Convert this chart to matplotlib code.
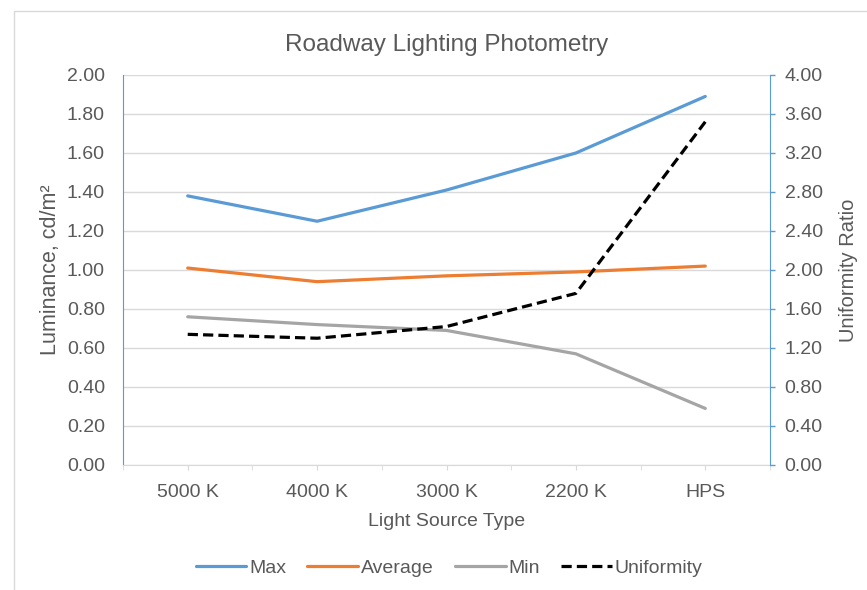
import matplotlib
matplotlib.use("Agg")
import matplotlib.pyplot as plt
from matplotlib.patches import Rectangle

sources = ["5000 K", "4000 K", "3000 K", "2200 K", "HPS"]
lum_max = [1.38, 1.25, 1.41, 1.60, 1.89]
lum_avg = [1.01, 0.94, 0.97, 0.99, 1.02]
lum_min = [0.76, 0.72, 0.69, 0.57, 0.29]
uniformity = [1.34, 1.30, 1.42, 1.76, 3.52]

TEXT = "#595959"
GRID = "#D9D9D9"
AXIS_BLUE = "#5B9BD5"

plt.rcParams["font.family"] = ["Liberation Sans", "DejaVu Sans"]

fig = plt.figure(figsize=(8.67, 5.90), dpi=100)
ax = fig.add_axes([0.1419, 0.2119, 0.7462, 0.6610])
ax2 = ax.twinx()

x = list(range(len(sources)))
ax.plot(x, lum_max, color="#5B9BD5", lw=2.3, label="Max", solid_capstyle="round")
ax.plot(x, lum_avg, color="#ED7D31", lw=2.3, label="Average", solid_capstyle="round")
ax.plot(x, lum_min, color="#A5A5A5", lw=2.3, label="Min", solid_capstyle="round")
ax2.plot(x, uniformity, color="black", lw=2.3, dashes=(3.2, 1.6), label="Uniformity")

ax.set_xlim(-0.5, len(sources) - 0.5)
ax.set_ylim(0, 2.0)
ax2.set_ylim(0, 4.0)

ax.set_yticks([i * 0.2 for i in range(11)])
ax.set_yticklabels([f"{i * 0.2:.2f}" for i in range(11)])
ax2.set_yticks([i * 0.4 for i in range(11)])
ax2.set_yticklabels([f"{i * 0.4:.2f}" for i in range(11)])

ax.set_xticks(x)
ax.set_xticklabels(sources)
ax.set_xticks([i + 0.5 for i in range(-1, len(sources))], minor=True)

ax.grid(axis="y", color=GRID, lw=1)
ax.set_axisbelow(True)

for side in ["top", "right"]:
    ax.spines[side].set_visible(False)
    ax2.spines[side].set_visible(False)
ax2.spines["left"].set_visible(False)
ax2.spines["bottom"].set_visible(False)
ax.spines["left"].set_color(AXIS_BLUE)
ax2.spines["right"].set_visible(True)
ax2.spines["right"].set_color(AXIS_BLUE)
ax.spines["bottom"].set_color(GRID)

ax.tick_params(axis="y", length=0, pad=13, labelsize=14, labelcolor=TEXT)
ax2.tick_params(axis="y", length=3.5, width=1, color=AXIS_BLUE, pad=7,
                labelsize=14, labelcolor=TEXT)
ax.tick_params(axis="x", which="both", length=3.5, color=GRID, pad=10,
               labelsize=14, labelcolor=TEXT)

ax.set_xlabel("Light Source Type", fontsize=14, color=TEXT, labelpad=9)
ax.set_ylabel("Luminance, cd/m²", fontsize=15.5, color=TEXT, labelpad=4)
ax2.set_ylabel("Uniformity Ratio", fontsize=14.5, color=TEXT, labelpad=12)
ax.set_title("Roadway Lighting Photometry", fontsize=17.5, color=TEXT, pad=17)

handles = ax.get_lines() + ax2.get_lines()
fig.legend(handles, [h.get_label() for h in handles], loc="center",
           bbox_to_anchor=(0.518, 0.037), ncol=4, frameon=False,
           fontsize=14, labelcolor=TEXT, handlelength=2.6,
           handletextpad=0.15, columnspacing=1.1)

# light chart-area border
fig.add_artist(Rectangle((14 / 867, -0.01), 1.0, 1 - 11 / 590 + 0.01,
                         transform=fig.transFigure, fill=False,
                         edgecolor="#D9D9D9", lw=1))

fig.savefig("out.png", dpi=100)
